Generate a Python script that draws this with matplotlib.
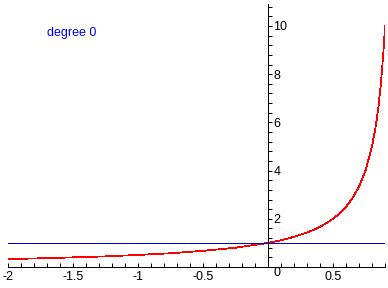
import matplotlib
matplotlib.use("Agg")
import matplotlib.pyplot as plt
import numpy as np

# Curve values
x_curve = [-2.0, -1.75, -1.5, -1.25, -1.0, -0.75, -0.5, -0.25, 0.0, 0.1, 0.2, 0.3,
           0.35, 0.4, 0.45, 0.5, 0.55, 0.6, 0.65, 0.7, 0.75, 0.8, 0.83, 0.85, 0.87, 0.89, 0.9]
y_curve = [0.33, 0.36, 0.40, 0.44, 0.50, 0.57, 0.67, 0.80, 1.00, 1.11, 1.25, 1.43,
           1.54, 1.67, 1.82, 2.00, 2.22, 2.50, 2.86, 3.33, 4.00, 5.00, 5.88, 6.67, 7.69, 9.09, 10.0]
x_line = [-2.0, 0.9]
y_line = [1.0, 1.0]
label_text = "degree 0"

x_ticks = [-2, -1.5, -1, -0.5, 0.5]
x_tick_labels = ["-2", "-1.5", "-1", "-0.5", "0.5"]
y_ticks = [0, 2, 4, 6, 8, 10]
y_tick_labels = ["0", "2", "4", "6", "8", "10"]

plt.rcParams['font.family'] = ['Liberation Sans', 'DejaVu Sans']

fig = plt.figure(figsize=(3.88, 2.88), dpi=100)
ax = fig.add_axes([8/388, 21/288, 377/388, 262.7/288])
ax.set_xlim(-2, 0.9)
ax.set_ylim(0, 10.9)

ax.plot(x_curve, y_curve, color=(1, 0, 0), lw=0.55, antialiased=False)
ax.plot(x_line, y_line, color=(0, 0, 0.8), lw=0.72, antialiased=False)

for s in ['top', 'right']:
    ax.spines[s].set_visible(False)
ax.spines['left'].set_position(('data', 0))
ax.spines['bottom'].set_position(('data', 0))
ax.spines['left'].set_linewidth(0.72)
ax.spines['bottom'].set_linewidth(0.72)
ax.spines['bottom'].set_bounds(-2, 0.9)
ax.spines['bottom'].set_clip_on(False)

ax.set_xticks(x_ticks)
ax.set_xticklabels(x_tick_labels)
ax.set_xticks(np.arange(-2, 0.95, 0.1), minor=True)
ax.set_yticks(y_ticks)
ax.set_yticklabels(y_tick_labels)
ax.set_yticks(np.arange(0, 10.95, 0.4), minor=True)

ax.tick_params(axis='x', which='both', direction='in', length=3, width=0.72, pad=3,
               labelsize=9)
ax.tick_params(axis='y', which='both', direction='in', length=3, width=0.72, pad=-4,
               labelsize=9)
for lab in ax.get_yticklabels():
    lab.set_horizontalalignment('left')
ax.get_yticklabels()[0].set_verticalalignment('top')

ax.text(-1.7, 9.7, label_text, color=(0, 0, 1), fontsize=9, ha='left', va='center')

fig.savefig("out.png", dpi=100)
